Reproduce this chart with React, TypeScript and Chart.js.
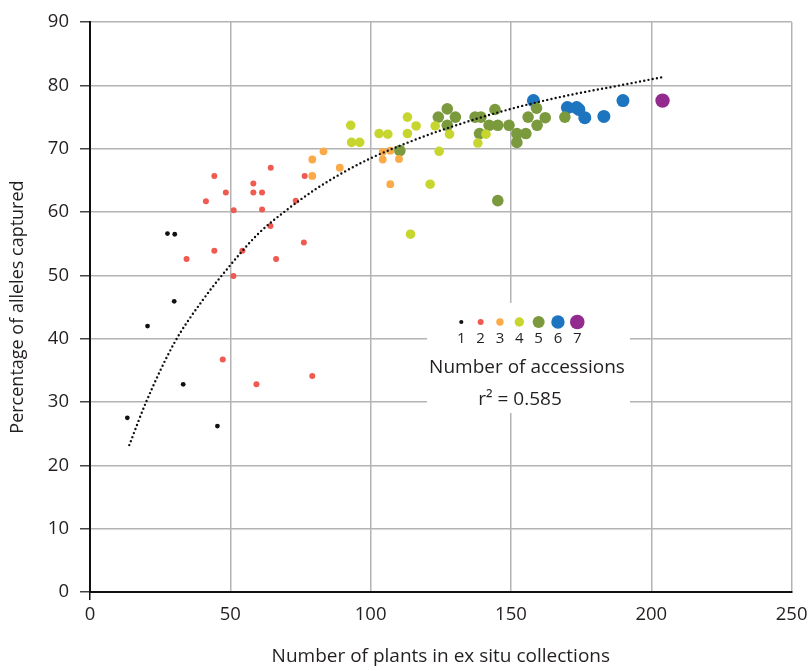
import React, { useEffect, useRef } from "react";
import { Chart, registerables } from "chart.js";

Chart.register(...registerables);

// ---- data ----
const groupLabels = ["1", "2", "3", "4", "5", "6", "7"];
const groupColors = ["#111111", "#ef5a51", "#fbaa47", "#c6d62f", "#7b9a3e", "#1e75bf", "#932a8e"];
const groupRadius = [2.4, 3, 3.9, 4.8, 5.8, 6.5, 7.2];
const legendRadius = [2.1, 3, 3.7, 4.7, 6, 6.7, 7.3];

const n1X = [27.6, 30.2, 30.0, 20.5, 33.2, 13.3, 45.4];
const n1Y = [56.6, 56.5, 45.9, 42.0, 32.8, 27.5, 26.2];

const n2X = [44.3, 64.4, 48.4, 58.2, 58.2, 61.3, 41.3, 51.2, 61.3, 76.5, 73.3, 64.3, 44.3, 54.3, 34.4, 66.3, 76.2, 51.1, 47.3, 59.3, 79.2];
const n2Y = [65.7, 67.0, 63.1, 64.5, 63.1, 63.1, 61.7, 60.3, 60.4, 65.7, 61.8, 57.8, 53.9, 53.9, 52.6, 52.6, 55.2, 49.9, 36.7, 32.8, 34.1];

const n3X = [79.2, 83.2, 79.2, 89.0, 104.3, 107.0, 104.3, 110.1, 107.0];
const n3Y = [68.3, 69.6, 65.7, 67.0, 69.5, 69.7, 68.3, 68.4, 64.4];

const n4X = [92.9, 93.2, 96.1, 103.0, 106.1, 113.1, 116.2, 113.1, 123.0, 128.1, 124.4, 121.2, 114.2, 138.2, 141.1];
const n4Y = [73.7, 71.0, 71.0, 72.4, 72.3, 75.0, 73.6, 72.4, 73.6, 72.3, 69.6, 64.4, 56.5, 70.9, 72.3];

const n5X = [110.4, 124.1, 127.3, 130.2, 127.3, 137.2, 139.3, 144.3, 142.2, 145.3, 149.3, 138.8, 152.1, 155.3, 152.1, 145.3, 159.1, 156.1, 162.2, 159.3, 169.2];
const n5Y = [69.7, 75.0, 76.3, 75.0, 73.7, 75.0, 75.0, 76.2, 73.7, 73.7, 73.7, 72.4, 72.4, 72.4, 71.0, 61.8, 76.4, 75.0, 74.9, 73.7, 75.0];

const n6X = [158.0, 170.1, 173.4, 174.2, 176.3, 183.1, 189.9];
const n6Y = [77.6, 76.5, 76.5, 76.2, 74.9, 75.1, 77.6];

const n7X = [204.0];
const n7Y = [77.6];

const trendX = [14, 20, 30, 40, 47, 60, 70, 80, 90, 100, 110, 125, 150, 170, 190, 205];
const trendY = [23.2, 30.0, 39.3, 46.0, 50.0, 56.6, 60.3, 63.5, 66.2, 68.5, 70.4, 72.9, 76.3, 78.4, 80.1, 81.4];

const xTitle = "Number of plants in ex situ collections";
const yTitle = "Percentage of alleles captured";
const legendTitle = "Number of accessions";
const r2Text = "r\u00B2 = 0.585";

const FONT = "'Open Sans', 'Noto Sans', sans-serif";
const TEXT = "#231f20";

const groupsX = [n1X, n2X, n3X, n4X, n5X, n6X, n7X];
const groupsY = [n1Y, n2Y, n3Y, n4Y, n5Y, n6Y, n7Y];

const zip = (xs: number[], ys: number[]) => xs.map((x, i) => ({ x, y: ys[i] }));

const legendPlugin = {
  id: "accessionLegend",
  afterDraw(chart: any) {
    const ctx = chart.ctx as CanvasRenderingContext2D;
    ctx.save();
    ctx.fillStyle = "#ffffff";
    ctx.fillRect(427, 303, 203, 110);
    const x0 = 461.3;
    const dx = 19.33;
    groupLabels.forEach((lab, i) => {
      const cx = x0 + i * dx;
      ctx.beginPath();
      ctx.arc(cx, 322, legendRadius[i], 0, Math.PI * 2);
      ctx.fillStyle = groupColors[i];
      ctx.fill();
      ctx.fillStyle = TEXT;
      ctx.font = `15px ${FONT}`;
      ctx.textAlign = "center";
      ctx.textBaseline = "middle";
      ctx.fillText(lab, cx, 338.5);
    });
    ctx.font = `19px ${FONT}`;
    ctx.fillStyle = TEXT;
    ctx.textAlign = "center";
    ctx.textBaseline = "middle";
    ctx.fillText(legendTitle, 527, 368);
    ctx.fillText(r2Text, 520, 400);
    ctx.restore();
  },
};

export default function App() {
  const ref = useRef<HTMLCanvasElement>(null);
  useEffect(() => {
    const datasets: any[] = [
      {
        type: "line",
        label: "trend",
        data: zip(trendX, trendY),
        borderColor: "#111111",
        borderWidth: 2.4,
        borderDash: [0, 4.3],
        borderCapStyle: "round",
        pointRadius: 0,
        fill: false,
        cubicInterpolationMode: "monotone",
      },
    ];
    groupLabels.forEach((lab, i) => {
      datasets.push({
        type: "scatter",
        label: lab,
        data: zip(groupsX[i], groupsY[i]),
        backgroundColor: groupColors[i],
        borderColor: groupColors[i],
        borderWidth: 0,
        pointRadius: groupRadius[i],
      });
    });
    const chart = new Chart(ref.current!, {
      type: "scatter",
      data: { datasets },
      plugins: [legendPlugin],
      options: {
        animation: false,
        responsive: true,
        maintainAspectRatio: false,
        layout: { padding: { left: 0, right: 18, top: 20, bottom: 0 } },
        plugins: { legend: { display: false }, tooltip: { enabled: false } },
        scales: {
          x: {
            type: "linear",
            min: 0,
            max: 250,
            ticks: { stepSize: 50, color: TEXT, font: { family: FONT, size: 18.5 }, padding: 3.5 },
            grid: {
              color: "#b3b3b3",
              lineWidth: 1.5,
              tickLength: 8,
              tickColor: (c: any) => (c.tick && c.tick.value === 0 ? "#111111" : "rgba(0,0,0,0)"),
            },
            border: { color: "#111111", width: 2 },
            title: { display: true, text: xTitle, color: TEXT, font: { family: FONT, size: 19 }, padding: { top: 0, bottom: 2.6 } },
            afterFit: (s: any) => {
              s.height = 79;
            },
          },
          y: {
            type: "linear",
            min: 0,
            max: 90,
            ticks: { stepSize: 10, color: TEXT, font: { family: FONT, size: 18.5 }, padding: 11 },
            grid: { color: "#b3b3b3", lineWidth: 1.5, tickLength: 10, tickColor: "#444444" },
            border: { color: "#111111", width: 2 },
            title: { display: true, text: yTitle, color: TEXT, font: { family: FONT, size: 18 }, padding: { top: 7.5, bottom: 0 } },
            afterFit: (s: any) => {
              s.width = 90;
            },
          },
        },
      } as any,
    });
    return () => chart.destroy();
  }, []);
  return (
    <div style={{ position: "absolute", left: 0, top: 0, width: 811, height: 671, background: "#fff" }}>
      <canvas ref={ref} />
    </div>
  );
}
